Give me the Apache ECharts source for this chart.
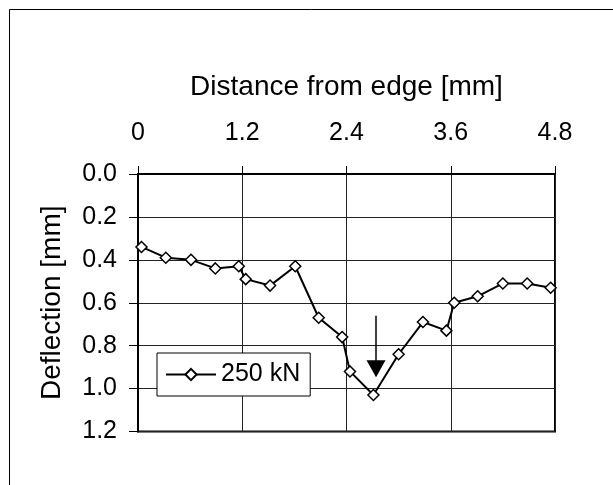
<!DOCTYPE html>
<html>
<head>
<meta charset="utf-8">
<script src="https://cdn.jsdelivr.net/npm/echarts@6/dist/echarts.min.js"></script>
<style>
  html, body { margin: 0; padding: 0; background: #fff; }
  #chart { width: 613px; height: 485px; }
</style>
</head>
<body>
<div id="chart"></div>
<script>
// distance from edge [mm] and deflection [mm] for the 250 kN load
var distance   = [0.04, 0.32, 0.61, 0.89, 1.16, 1.24, 1.52, 1.81, 2.08, 2.35,
                  2.44, 2.71, 3.00, 3.28, 3.55, 3.64, 3.91, 4.20, 4.48, 4.75];
var deflection = [0.34, 0.39, 0.40, 0.44, 0.43, 0.49, 0.52, 0.43, 0.67, 0.76,
                  0.92, 1.03, 0.84, 0.69, 0.73, 0.60, 0.57, 0.51, 0.51, 0.53];
var seriesName = '250 kN';
// arrow pointing at the max deflection: [x, yStart, yEnd]
var arrowX = 2.74, arrowFrom = 0.66, arrowTo = 0.907;

var FONT = '"Liberation Sans", Arial, sans-serif';

var points = [];
for (var i = 0; i < distance.length; i++) {
    points.push([distance[i], deflection[i]]);
}

var chart = echarts.init(document.getElementById('chart'));
var option = {
    animation: false,
    backgroundColor: '#fff',
    textStyle: { fontFamily: FONT, color: '#000' },
    graphic: [{
        type: 'rect',
        silent: true,
        shape: { x: 9.5, y: 9.5, width: 700, height: 600 },
        style: { fill: 'none', stroke: '#000', lineWidth: 1 }
    }],
    grid: {
        left: 138, top: 174, right: 58, bottom: 53.5,
        show: true, borderColor: '#000', borderWidth: 2,
        backgroundColor: 'transparent'
    },
    legend: {
        left: 157, top: 353,
        padding: [9, 10, 9, 8],
        itemWidth: 50, itemHeight: 14,
        borderColor: '#000', borderWidth: 1,
        backgroundColor: '#fff',
        textStyle: { fontFamily: FONT, fontSize: 25, color: '#000' },
        data: [seriesName]
    },
    xAxis: {
        type: 'value',
        position: 'top',
        min: 0, max: 4.8, interval: 1.2,
        name: 'Distance from edge [mm]',
        nameLocation: 'middle',
        nameGap: 73,
        nameTextStyle: { fontFamily: FONT, fontSize: 28, color: '#000' },
        axisLine: { show: true, lineStyle: { color: '#000', width: 2 } },
        axisTick: { show: true, length: 8, lineStyle: { color: '#000', width: 1 } },
        axisLabel: {
            fontFamily: FONT, fontSize: 25, color: '#000', margin: 28,
            formatter: function (v) { return v === 0 ? '0' : v.toFixed(1); }
        },
        splitLine: { show: true, lineStyle: { color: '#222', width: 1 } }
    },
    yAxis: {
        type: 'value',
        inverse: true,
        min: 0, max: 1.2, interval: 0.2,
        name: 'Deflection [mm]',
        nameLocation: 'middle',
        nameGap: 72,
        nameTextStyle: { fontFamily: FONT, fontSize: 28, color: '#000' },
        axisLine: { show: true, lineStyle: { color: '#000', width: 2 } },
        axisTick: { show: true, length: 9, lineStyle: { color: '#000', width: 1 } },
        axisLabel: {
            fontFamily: FONT, fontSize: 25, color: '#000', margin: 21,
            formatter: function (v) { return v.toFixed(1); }
        },
        splitLine: { show: true, lineStyle: { color: '#222', width: 1 } }
    },
    series: [{
        name: seriesName,
        type: 'line',
        data: points,
        color: '#000',
        symbol: 'diamond',
        symbolSize: 11,
        showAllSymbol: true,
        lineStyle: { color: '#000', width: 2 },
        itemStyle: { color: '#fff', borderColor: '#000', borderWidth: 1.5 },
        markLine: {
            silent: true,
            symbol: ['none', 'triangle'],
            symbolSize: [19, 17],
            label: { show: false },
            lineStyle: { color: '#000', width: 1.5, type: 'solid' },
            data: [[{ coord: [arrowX, arrowFrom] }, { coord: [arrowX, arrowTo] }]]
        }
    }]
};
chart.setOption(option);
</script>
</body>
</html>
